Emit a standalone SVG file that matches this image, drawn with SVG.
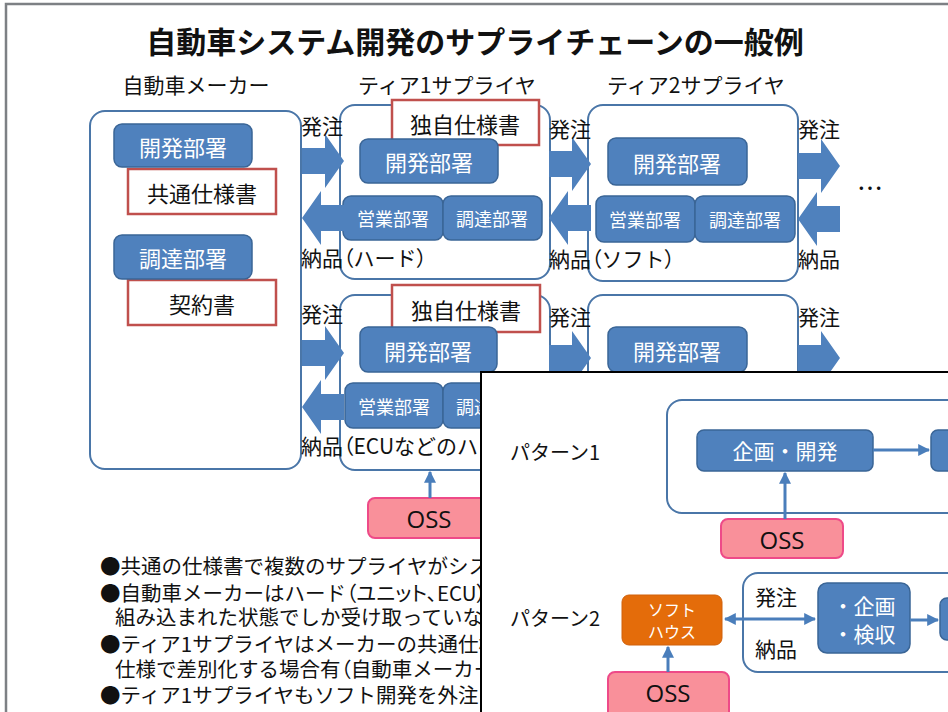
<svg xmlns="http://www.w3.org/2000/svg" xmlns:xlink="http://www.w3.org/1999/xlink" width="948" height="712" viewBox="0 0 948 712">
<style>
text{font-family:"Noto Sans CJK JP","Noto Sans",sans-serif;dominant-baseline:central;fill:#111}
.c{text-anchor:middle}
.w{fill:#fff}
.cont{fill:#fff;stroke:#4a76a8;stroke-width:2}
.blue{fill:#4f81bd;stroke:#3a6596;stroke-width:1.5}
.red{fill:#fff;stroke:#c0504d;stroke-width:2.5}
.oss{fill:#f9909a;stroke:#ee4a88;stroke-width:2}
.orange{fill:#e46c0a;stroke:#d0600a;stroke-width:1}
.barr{fill:#4f81bd}
.ln{stroke:#4a7ebb;stroke-width:3;fill:none}
.lab{font-size:21px}
.bl{font-size:20.5px}
.oss-t{font-family:"Open Sans","Noto Sans",sans-serif;font-size:24px}
.palt{font-feature-settings:"palt"}
</style>
<defs>
<path id="barR" d="M0,-13 H23 V-27 L42,0 L23,27 V13 H0 Z"/>
<marker id="ah" viewBox="0 0 10 10" refX="9" refY="5" markerWidth="4" markerHeight="4" orient="auto-start-reverse">
<path d="M0,0 L10,5 L0,10 Z" fill="#4a7ebb"/>
</marker>
</defs>
<rect width="948" height="712" fill="#fff"/>
<path d="M6,713 V4 H949" fill="none" stroke="#7d8084" stroke-width="2.5"/>

<text class="c" x="475" y="40" style="font-size:30px;font-weight:700">自動車システム開発のサプライチェーンの一般例</text>
<text class="c" x="196" y="84" style="font-size:21px">自動車メーカー</text>
<text class="c" x="447" y="84" style="font-size:21px">ティア1サプライヤ</text>
<text class="c" x="696" y="84" style="font-size:21px">ティア2サプライヤ</text>

<g id="maker">
<rect class="cont" x="90" y="111" width="211" height="358" rx="15"/>
<rect class="red" x="128" y="169" width="148" height="45"/>
<text class="c" x="202" y="192" style="font-size:22px">共通仕様書</text>
<rect class="blue" x="114" y="124" width="138" height="43" rx="8"/>
<text class="c w" x="183" y="146" style="font-size:22px">開発部署</text>
<rect class="red" x="128" y="280" width="148" height="45"/>
<text class="c" x="202" y="303" style="font-size:22px">契約書</text>
<rect class="blue" x="114" y="235" width="138" height="44" rx="8"/>
<text class="c w" x="183" y="257" style="font-size:22px">調達部署</text>
</g>

<g id="tier1-row1">
<rect class="cont" x="340" y="105" width="210" height="174" rx="15"/>
<rect class="red" x="392" y="100" width="147" height="45"/>
<text class="c" x="465" y="123" style="font-size:22px">独自仕様書</text>
<rect class="blue" x="360" y="139" width="138" height="44" rx="8"/>
<text class="c w" x="429" y="161" style="font-size:22px">開発部署</text>
<rect class="blue" x="343" y="196" width="100" height="44" rx="8"/>
<text class="c w" x="393" y="218" style="font-size:18px">営業部署</text>
<rect class="blue" x="443" y="196" width="99" height="44" rx="8"/>
<text class="c w" x="492" y="218" style="font-size:18px">調達部署</text>
</g>

<g id="tier2-row1">
<rect class="cont" x="588" y="105" width="210" height="176" rx="15"/>
<rect class="blue" x="608" y="138" width="139" height="47" rx="8"/>
<text class="c w" x="677" y="162" style="font-size:22px">開発部署</text>
<rect class="blue" x="596" y="196" width="99" height="46" rx="8"/>
<text class="c w" x="645" y="219" style="font-size:18px">営業部署</text>
<rect class="blue" x="695" y="196" width="100" height="46" rx="8"/>
<text class="c w" x="745" y="219" style="font-size:18px">調達部署</text>
</g>

<g id="tier1-row2">
<rect class="cont" x="340" y="295" width="210" height="175" rx="15"/>
<rect class="red" x="392" y="285" width="148" height="47"/>
<text class="c" x="466" y="309" style="font-size:22px">独自仕様書</text>
<rect class="blue" x="360" y="327" width="137" height="45" rx="8"/>
<text class="c w" x="428" y="350" style="font-size:22px">開発部署</text>
<rect class="blue" x="345" y="383" width="98" height="45" rx="8"/>
<text class="c w" x="394" y="406" style="font-size:18px">営業部署</text>
<rect class="blue" x="443" y="383" width="99" height="45" rx="8"/>
<text class="c w" x="492" y="406" style="font-size:18px">調達部署</text>
</g>

<g id="tier2-row2">
<rect class="cont" x="588" y="295" width="210" height="175" rx="15"/>
<rect class="blue" x="608" y="327" width="139" height="45" rx="8"/>
<text class="c w" x="677" y="350" style="font-size:22px">開発部署</text>
</g>

<g id="oss-row2">
<rect class="oss" x="368" y="498" width="122" height="40" rx="7"/>
<text class="c oss-t" x="429" y="518">OSS</text>
</g>

<g id="connectors">
<use xlink:href="#barR" href="#barR" class="barr" x="302" y="161"/>
<use xlink:href="#barR" href="#barR" class="barr" transform="translate(344,218) scale(-1,1)"/>
<use xlink:href="#barR" href="#barR" class="barr" x="549" y="164"/>
<use xlink:href="#barR" href="#barR" class="barr" transform="translate(591,218) scale(-1,1)"/>
<use xlink:href="#barR" href="#barR" class="barr" x="798" y="166"/>
<use xlink:href="#barR" href="#barR" class="barr" transform="translate(840,219) scale(-1,1)"/>
<use xlink:href="#barR" href="#barR" class="barr" x="302" y="353"/>
<use xlink:href="#barR" href="#barR" class="barr" transform="translate(344,407) scale(-1,1)"/>
<use xlink:href="#barR" href="#barR" class="barr" x="549" y="358"/>
<use xlink:href="#barR" href="#barR" class="barr" x="798" y="358"/>
<line class="ln" x1="430" y1="498" x2="430" y2="472" marker-end="url(#ah)"/>
</g>

<g id="labels">
<text class="lab" x="301" y="125">発注</text>
<text class="lab" x="301" y="257">納品<tspan class="palt">（</tspan>ハード<tspan class="palt">）</tspan></text>
<text class="lab" x="549" y="128">発注</text>
<text class="lab" x="549" y="258">納品<tspan class="palt">（</tspan>ソフト<tspan class="palt">）</tspan></text>
<text class="lab" x="798" y="128">発注</text>
<text class="lab" x="798" y="258">納品</text>
<text class="c" x="870" y="186" style="font-size:26px">…</text>
<text class="lab" x="301" y="313">発注</text>
<text class="lab" x="301" y="445">納品<tspan class="palt">（</tspan>ECUなどのハ</text>
<text class="lab" x="549" y="316">発注</text>
<text class="lab" x="798" y="316">発注</text>
</g>

<g id="notes" class="bl">
<text class="bl" x="100" y="565">●共通の仕様書で複数のサプライヤがシス</text>
<text class="bl" x="100" y="592">●自動車メーカーはハード<tspan class="palt">（ユニット、ECU）</tspan></text>
<text class="bl" x="115" y="616">組み込まれた状態でしか受け取っていな</text>
<text class="bl" x="100" y="643">●ティア1サプライヤはメーカーの共通仕様</text>
<text class="bl" x="115" y="668">仕様で差別化する場合有<tspan class="palt">（</tspan>自動車メーカー</text>
<text class="bl" x="100" y="694">●ティア1サプライヤもソフト開発を外注する</text>
</g>

<g id="inset">
<rect x="481" y="372" width="500" height="400" fill="#fff" stroke="#000" stroke-width="2"/>
<text x="510" y="451" style="font-size:20px">パターン1</text>
<text x="510" y="617" style="font-size:20px">パターン2</text>
<g id="p1-box"><rect class="cont" x="667" y="400" width="320" height="113" rx="15"/></g>
<g id="p1-kikaku">
<rect class="blue" x="697" y="430" width="176" height="41" rx="7"/>
<text class="c w" x="785" y="450" style="font-size:21px">企画・開発</text>
</g>
<g id="p1-next"><rect class="blue" x="931" y="430" width="60" height="41" rx="7"/></g>
<g id="p1-oss">
<rect class="oss" x="721" y="519" width="122" height="39" rx="7"/>
<text class="c oss-t" x="782" y="539">OSS</text>
</g>
<g id="p2-box"><rect class="cont" x="743" y="573" width="240" height="99" rx="15"/></g>
<g id="p2-soft">
<rect class="orange" x="622" y="595" width="100" height="50" rx="7"/>
<text class="c w" x="672" y="609" style="font-size:16px">ソフト</text>
<text class="c w" x="672" y="631" style="font-size:16px">ハウス</text>
</g>
<g id="p2-kikaku">
<rect class="blue" x="818" y="583" width="92" height="70" rx="9"/>
<text class="c w" x="864" y="605" style="font-size:21px">・企画</text>
<text class="c w" x="864" y="633" style="font-size:21px">・検収</text>
</g>
<g id="p2-next"><rect class="blue" x="940" y="598" width="40" height="42" rx="7"/></g>
<g id="p2-oss">
<rect class="oss" x="608" y="672" width="121" height="50" rx="7"/>
<text class="c oss-t" x="668" y="692">OSS</text>
</g>
<g id="inset-connectors">
<line class="ln" x1="873" y1="450" x2="929" y2="450" marker-end="url(#ah)"/>
<line class="ln" x1="785" y1="519" x2="785" y2="473" marker-end="url(#ah)"/>
<line class="ln" x1="725" y1="619" x2="815" y2="619" marker-start="url(#ah)" marker-end="url(#ah)"/>
<line class="ln" x1="910" y1="620" x2="938" y2="620" marker-end="url(#ah)"/>
<line class="ln" x1="668" y1="672" x2="668" y2="647" marker-end="url(#ah)"/>
</g>
<text class="lab" x="755" y="596">発注</text>
<text class="lab" x="755" y="648">納品</text>
</g>
</svg>
